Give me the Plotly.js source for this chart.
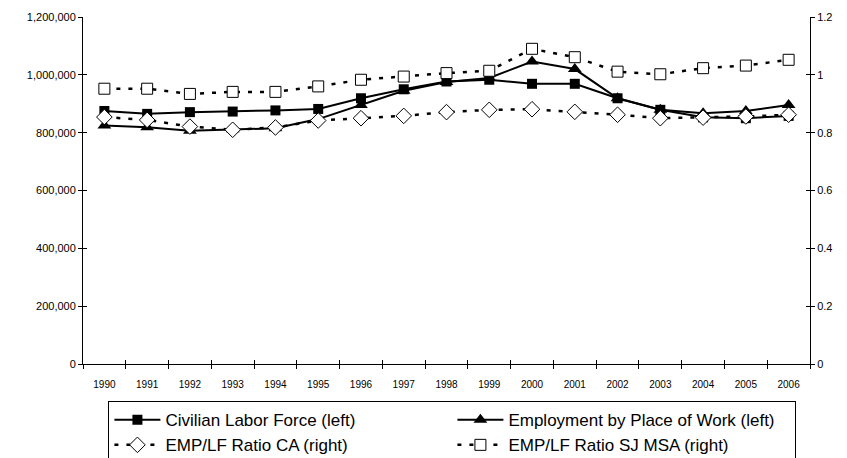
<!DOCTYPE html>
<html>
<head>
<meta charset="utf-8">
<script src="https://cdn.plot.ly/plotly-3.0.1.min.js"></script>
<style>html,body{margin:0;padding:0;background:#fff;}#chart{width:847px;height:458px;}</style>
</head>
<body>
<div id="chart"></div>
<script>
const years = ["1990","1991","1992","1993","1994","1995","1996","1997","1998","1999","2000","2001","2002","2003","2004","2005","2006"];
const laborForce = [875000,865000,871000,873000,877000,882000,919000,950000,977000,983000,969000,969000,919000,879000,853000,850000,858000];
const employment = [825000,819000,807000,812000,815000,847000,896000,945000,975000,989000,1046000,1020000,919000,879000,867000,875000,896000];
const ratioCA = [0.854,0.844,0.821,0.810,0.818,0.842,0.850,0.858,0.871,0.879,0.881,0.872,0.862,0.850,0.852,0.856,0.862];
const ratioSJ = [0.952,0.952,0.934,0.941,0.941,0.960,0.983,0.994,1.006,1.014,1.090,1.061,1.011,1.002,1.023,1.032,1.052];

const traces = [
  {x: years, y: laborForce, name: "Civilian Labor Force (left)", type: "scatter", mode: "lines+markers",
   line: {color: "#000", width: 2}, marker: {symbol: "square", size: 10, color: "#000"}, yaxis: "y"},
  {x: years, y: employment, name: "Employment by Place of Work (left)", type: "scatter", mode: "lines+markers",
   line: {color: "#000", width: 2}, marker: {symbol: "triangle-up", size: 12, color: "#000"}, yaxis: "y"},
  {x: years, y: ratioCA, name: "EMP/LF Ratio CA (right)", type: "scatter", mode: "lines+markers",
   line: {color: "#000", width: 2.5, dash: "4px,8px"}, marker: {symbol: "diamond", size: 12, color: "#fff", line: {color: "#000", width: 1}}, yaxis: "y2"},
  {x: years, y: ratioSJ, name: "EMP/LF Ratio SJ MSA (right)", type: "scatter", mode: "lines+markers",
   line: {color: "#000", width: 2.5, dash: "4px,8px"}, marker: {symbol: "square", size: 11, color: "#fff", line: {color: "#000", width: 1}}, yaxis: "y2"},
  // invisible helpers carrying the inner half of the crossing tick marks
  {x: years, y: laborForce, xaxis: "x2", yaxis: "y3", mode: "none", showlegend: false, hoverinfo: "skip"},
  {x: years, y: ratioSJ, xaxis: "x2", yaxis: "y4", mode: "none", showlegend: false, hoverinfo: "skip"}
];

const layout = {
  width: 847, height: 458,
  margin: {l: 83, r: 37, t: 17, b: 94},
  paper_bgcolor: "#fff", plot_bgcolor: "#fff",
  font: {family: "Arial, 'Liberation Sans', sans-serif", color: "#000", size: 10},
  showlegend: true,
  xaxis: {type: "category", range: [-0.5, 16.5], tickson: "boundaries", ticks: "outside", ticklen: 4,
          tickcolor: "#000", showline: true, linecolor: "#000", linewidth: 1, showgrid: false, zeroline: false,
          tickfont: {size: 10}, ticklabelstandoff: 11},
  xaxis2: {type: "category", overlaying: "x", matches: "x", anchor: "y", range: [-0.5, 16.5], tickson: "boundaries",
           ticks: "inside", ticklen: 4, tickcolor: "#000", showticklabels: false, showline: false, showgrid: false, zeroline: false},
  yaxis: {range: [0, 1200000], dtick: 200000, tickformat: ",d", ticks: "outside", ticklen: 4, tickcolor: "#000",
          showline: true, linecolor: "#000", linewidth: 1, showgrid: false, zeroline: false, tickfont: {size: 11}},
  yaxis2: {range: [0, 1.2], dtick: 0.2, overlaying: "y", side: "right", ticks: "outside", ticklen: 4, tickcolor: "#000",
           showline: true, linecolor: "#000", linewidth: 1, showgrid: false, zeroline: false, tickfont: {size: 11}},
  yaxis3: {range: [0, 1200000], dtick: 200000, overlaying: "y", anchor: "x", side: "left", ticks: "inside", ticklen: 4,
           tickcolor: "#000", showticklabels: false, showline: false, showgrid: false, zeroline: false},
  yaxis4: {range: [0, 1.2], dtick: 0.2, overlaying: "y", anchor: "x", side: "right", ticks: "inside", ticklen: 4,
           tickcolor: "#000", showticklabels: false, showline: false, showgrid: false, zeroline: false},
  legend: {orientation: "h", xref: "container", yref: "container", x: 0.128, xanchor: "left", y: 0.124, yanchor: "top",
           bordercolor: "#000", borderwidth: 1, bgcolor: "#fff",
           font: {size: 17}, entrywidth: 282, entrywidthmode: "pixels", itemwidth: 46,
           traceorder: "normal", tracegroupgap: 0}
};

Plotly.newPlot("chart", traces, layout, {displayModeBar: false, staticPlot: true});
</script>
</body>
</html>
